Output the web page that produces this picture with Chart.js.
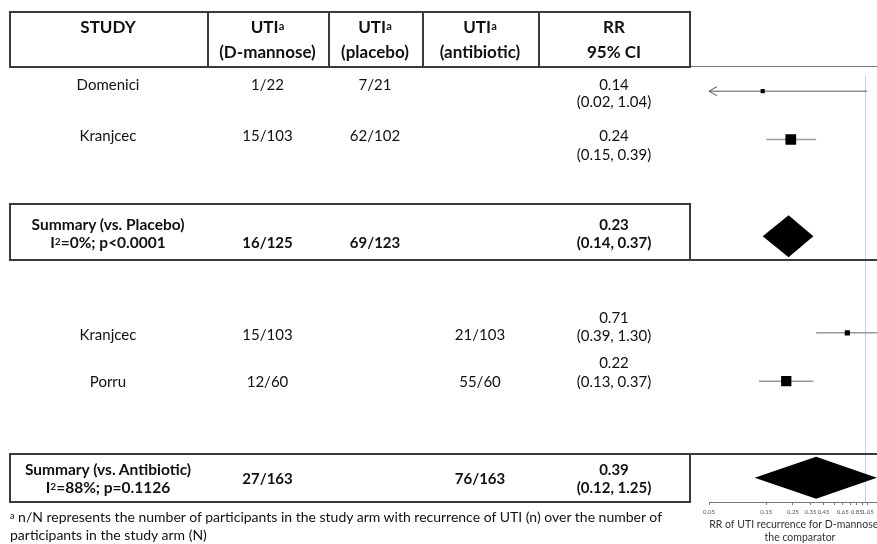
<!DOCTYPE html>
<html>
<head>
<meta charset="utf-8">
<script src="https://cdn.jsdelivr.net/npm/chart.js@4.4.1/dist/chart.umd.min.js"></script>
<style>
  html, body { margin: 0; padding: 0; background: #fff; }
  #wrap { position: relative; width: 877px; height: 544px; overflow: hidden; font-family: Lato, "Open Sans", sans-serif; color: #111; }
  #c { position: absolute; left: 0; top: 0; }
  .cell { position: absolute; text-align: center; white-space: nowrap; font-size: 15px; line-height: 18px; }
  .b { font-weight: bold; }
  .s { font-size: 15.5px; }
  .h { font-size: 17px; line-height: 20px; }
  .line { position: absolute; background: #3a3a3a; }
  sup { font-size: 0.65em; vertical-align: top; position: relative; top: -1px; }
  #note { position: absolute; left: 10px; top: 508px; font-size: 14px; line-height: 18px; white-space: nowrap; }
</style>
</head>
<body>
<div id="wrap">
  <canvas id="c" width="900" height="544"></canvas>
  <div id="table"></div>
  <div id="note"><sup>a</sup> n/N represents the number of participants in the study arm with recurrence of UTI (n) over the number of<br>participants in the study arm (N)</div>
</div>
<script>
// rows of the forest plot
const studies = ['Domenici', 'Kranjcec', 'Summary (vs. Placebo)', 'Kranjcec', 'Porru', 'Summary (vs. Antibiotic)'];
const heterogeneity = ['', '', 'I<sup>2</sup>=0%; p<0.0001', '', '', 'I<sup>2</sup>=88%; p=0.1126'];
const isSummary = [false, false, true, false, false, true];
const utiDMannose = ['1/22', '15/103', '16/125', '15/103', '12/60', '27/163'];
const utiPlacebo = ['7/21', '62/102', '69/123', '', '', ''];
const utiAntibiotic = ['', '', '', '21/103', '55/60', '76/163'];
const rr = [0.14, 0.24, 0.23, 0.71, 0.22, 0.39];
const ciLow = [0.02, 0.15, 0.14, 0.39, 0.13, 0.12];
const ciHigh = [1.04, 0.39, 0.37, 1.30, 0.37, 1.25];
const weights = [13, 87, null, 20, 80, null];

// y categories, gap keys are the empty rows between groups
const rowKeys = ['Domenici', 'Kranjcec (placebo)', 'gap1', 'Summary (vs. Placebo)', 'gap2',
                 'Kranjcec (antibiotic)', 'Porru', 'gap3', 'Summary (vs. Antibiotic)'];
const studyRow = ['Domenici', 'Kranjcec (placebo)', 'Summary (vs. Placebo)',
                  'Kranjcec (antibiotic)', 'Porru', 'Summary (vs. Antibiotic)'];

const xTicks = [0.05, 0.15, 0.25, 0.35, 0.45, 0.55, 0.65, 0.75, 0.85, 0.95, 1.05];
const xTickLabels = ['0.05', '0.15', '0.25', '0.35', '0.45', '', '0.65', '', '0.85', '', '1.05'];
const xMin = 0.05, xMax = 1.64, noEffect = 1;

// ---------- table (html) ----------
const table = document.getElementById('table');
function cell(html, x0, x1, cy, cls) {
  const d = document.createElement('div');
  d.className = 'cell ' + (cls || '');
  d.style.left = x0 + 'px';
  d.style.width = (x1 - x0) + 'px';
  d.style.top = (cy - (cls && cls.includes('h') ? 10 : 9)) + 'px';
  d.innerHTML = html;
  table.appendChild(d);
}
function line(x, y, w, h, color) {
  const d = document.createElement('div');
  d.className = 'line';
  d.style.left = x + 'px'; d.style.top = y + 'px';
  d.style.width = w + 'px'; d.style.height = h + 'px';
  if (color) d.style.background = color;
  table.appendChild(d);
}

const cols = { study: [9, 207], dm: [207, 328], pl: [328, 422], ab: [422, 538], rr: [538, 690] };

// header
cell('STUDY', ...cols.study, 27, 'b h');
cell('UTI<sup>a</sup>', ...cols.dm, 27, 'b h');
cell('(D-mannose)', ...cols.dm, 52, 'b h');
cell('UTI<sup>a</sup>', ...cols.pl, 27, 'b h');
cell('(placebo)', ...cols.pl, 52, 'b h');
cell('UTI<sup>a</sup>', ...cols.ab, 27, 'b h');
cell('(antibiotic)', ...cols.ab, 52, 'b h');
cell('RR', ...cols.rr, 27, 'b h');
cell('95% CI', ...cols.rr, 52, 'b h');

// text line positions for each row: name, counts, rr line 1, rr line 2
const rowText = [
  [84, 84, 84, 101],
  [135, 135, 135, 154],
  [224, 242, 224, 242],
  [334, 334, 317, 335],
  [381, 381, 362, 381],
  [469, 478, 469, 487]
];
studies.forEach((s, i) => {
  const [yn, yc, y1, y2] = rowText[i];
  const b = isSummary[i] ? 'b' : '';
  cell(s, ...cols.study, yn, b + (isSummary[i] ? ' s' : ''));
  if (heterogeneity[i]) cell(heterogeneity[i], ...cols.study, yn + 18, b + ' s');
  cell(utiDMannose[i], ...cols.dm, yc, b);
  cell(utiPlacebo[i], ...cols.pl, yc, b);
  cell(utiAntibiotic[i], ...cols.ab, yc, b);
  cell(rr[i].toFixed(2), ...cols.rr, y1, b);
  cell('(' + ciLow[i].toFixed(2) + ', ' + ciHigh[i].toFixed(2) + ')', ...cols.rr, y2, b);
});

// borders
line(9, 11, 682, 2); line(9, 66, 682, 2); line(690, 66, 187, 1, '#777');
line(9, 11, 2, 57); line(689, 11, 2, 57);
[207, 328, 422, 538].forEach(x => line(x, 11, 1.5, 57));
line(9, 203, 682, 2); line(9, 259, 868, 2);
line(9, 203, 2, 58); line(689, 203, 2, 58);
line(9, 453, 868, 2); line(9, 501, 682, 2);
line(9, 453, 2, 50); line(689, 453, 2, 50);

// ---------- forest plot (chart.js) ----------
const forestPlugin = {
  id: 'forest',
  beforeDatasetsDraw(chart) {
    const { ctx, chartArea, scales: { x, y } } = chart;
    ctx.save();
    // line of no effect
    ctx.strokeStyle = '#cfcfcf';
    ctx.lineWidth = 1;
    const x1 = Math.round(x.getPixelForValue(noEffect)) + 0.5;
    ctx.beginPath(); ctx.moveTo(x1, chartArea.top + 9); ctx.lineTo(x1, chartArea.bottom); ctx.stroke();

    studies.forEach((s, i) => {
      const cy = y.getPixelForValue(rowKeys.indexOf(studyRow[i]));
      const lo = Math.max(ciLow[i], xMin);
      const pl = x.getPixelForValue(lo);
      const ph = x.getPixelForValue(ciHigh[i]);
      const pm = x.getPixelForValue(rr[i]);
      if (isSummary[i]) {
        ctx.fillStyle = '#000';
        ctx.beginPath();
        ctx.moveTo(pl, cy); ctx.lineTo(pm, cy - 21); ctx.lineTo(ph, cy); ctx.lineTo(pm, cy + 21);
        ctx.closePath(); ctx.fill();
        return;
      }
      const clipped = ciLow[i] < xMin;
      ctx.strokeStyle = clipped ? '#555' : '#999';
      ctx.lineWidth = clipped ? 1 : 1.5;
      ctx.beginPath(); ctx.moveTo(pl, cy); ctx.lineTo(ph, cy); ctx.stroke();
      if (clipped) {
        ctx.beginPath();
        ctx.moveTo(pl + 8, cy - 4.5); ctx.lineTo(pl, cy); ctx.lineTo(pl + 8, cy + 4.5);
        ctx.stroke();
      }
    });
    ctx.restore();
  }
};

const pointData = [];
const pointRadius = [];
studies.forEach((s, i) => {
  if (weights[i] == null) return;
  pointData.push({ x: rr[i], y: studyRow[i] });
  pointRadius.push(1.15 * Math.sqrt(weights[i]) / Math.SQRT2);
});

const chart = new Chart(document.getElementById('c'), {
  type: 'scatter',
  data: {
    datasets: [{
      data: pointData,
      pointStyle: 'rect',
      pointRadius: pointRadius,
      backgroundColor: '#000',
      borderColor: '#000',
      borderWidth: 0
    }]
  },
  plugins: [forestPlugin],
  options: {
    responsive: false,
    animation: false,
    layout: { padding: { left: 709, top: 67, right: 9, bottom: 0 } },
    plugins: { legend: { display: false }, tooltip: { enabled: false } },
    scales: {
      x: {
        type: 'logarithmic',
        min: xMin,
        max: xMax,
        afterBuildTicks(scale) { scale.ticks = xTicks.map(v => ({ value: v })); },
        afterFit(scale) { scale.height = 42; },
        ticks: {
          autoSkip: false,
          maxRotation: 0,
          padding: 3,
          color: '#555',
          font: { family: 'Lato', size: 6 },
          callback: (v, i) => xTickLabels[i]
        },
        grid: { drawOnChartArea: false, drawTicks: true, tickLength: 3, color: '#777' },
        border: { display: true, color: '#777' },
        title: {
          display: true,
          text: ['RR of UTI recurrence for D-mannose vs', 'the comparator'],
          color: '#333',
          font: { family: 'Lato', size: 10.5 },
          padding: { top: 3, bottom: 0 }
        }
      },
      y: {
        type: 'category',
        labels: rowKeys,
        offset: true,
        display: false
      }
    }
  }
});
</script>
</body>
</html>
